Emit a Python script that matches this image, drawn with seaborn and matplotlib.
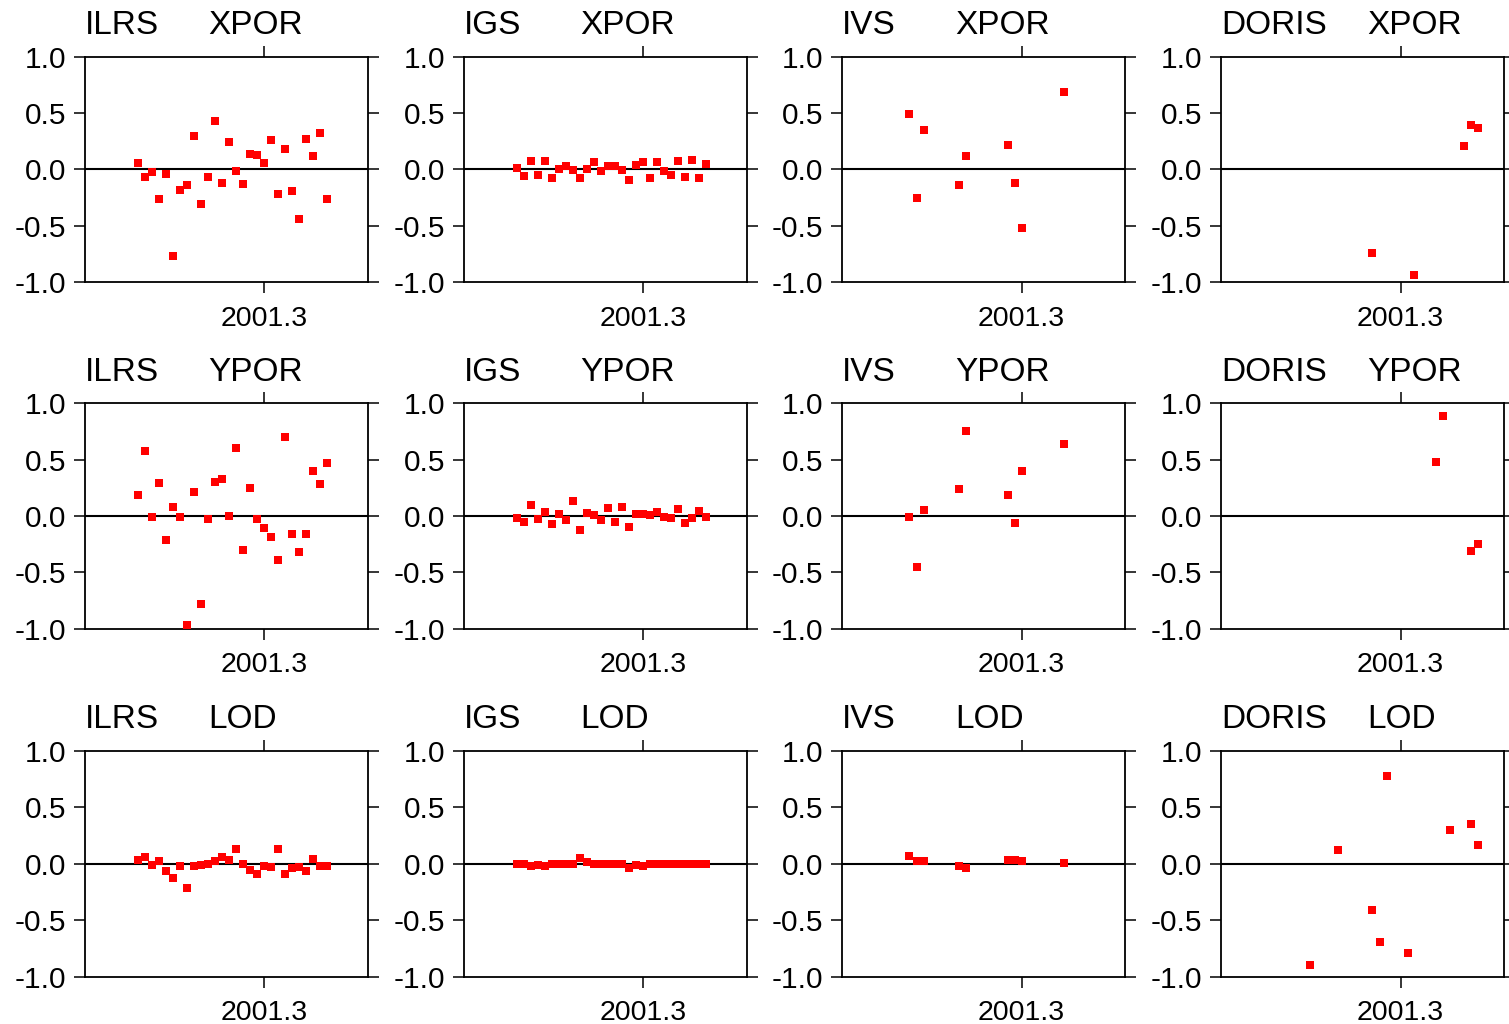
import matplotlib
matplotlib.use("Agg")
import matplotlib.pyplot as plt
import seaborn as sns
import pandas as pd

# ---------------- data ----------------
CENTRES = ["ILRS", "IGS", "IVS", "DORIS"]
PARAMS = ["XPOR", "YPOR", "LOD"]

# weekly epochs (decimal years)
EPOCHS_FULL = [2000.955, 2000.974, 2000.993, 2001.013, 2001.032, 2001.051, 2001.070,
               2001.089, 2001.108, 2001.128, 2001.147, 2001.166, 2001.185, 2001.204,
               2001.223, 2001.243, 2001.262, 2001.281, 2001.300, 2001.319, 2001.338,
               2001.358, 2001.377, 2001.396, 2001.415, 2001.434, 2001.453, 2001.473]
EPOCHS_IVS = [2000.993, 2001.013, 2001.032, 2001.128, 2001.147, 2001.262, 2001.281,
              2001.300, 2001.415]
EPOCHS_DORIS_X = [2001.223, 2001.338, 2001.473, 2001.492, 2001.511]
EPOCHS_DORIS_Y = [2001.396, 2001.415, 2001.492, 2001.511]
EPOCHS_DORIS_L = [2001.051, 2001.128, 2001.223, 2001.243, 2001.262, 2001.319,
                  2001.434, 2001.492, 2001.511]

ILRS_XPOR = [0.06, -0.07, -0.02, -0.26, -0.04, -0.77, -0.18, -0.14, 0.30, -0.31,
             -0.07, 0.43, -0.12, 0.24, -0.01, -0.13, 0.14, 0.13, 0.06, 0.26,
             -0.22, 0.18, -0.19, -0.44, 0.27, 0.12, 0.32, -0.26]
IGS_XPOR = [0.015, -0.056, 0.077, -0.047, 0.077, -0.074, 0.006, 0.033, -0.006, -0.074,
            0.006, 0.068, -0.015, 0.027, 0.027, -0.003, -0.092, 0.041, 0.068, -0.074,
            0.068, -0.012, -0.047, 0.077, -0.065, 0.086, -0.074, 0.050]
IVS_XPOR = [0.49, -0.25, 0.35, -0.14, 0.12, 0.22, -0.12, -0.52, 0.69]
DORIS_XPOR = [-0.74, -0.94, 0.21, 0.39, 0.37]

ILRS_YPOR = [0.19, 0.58, -0.01, 0.29, -0.21, 0.08, -0.01, -0.97, 0.21, -0.78,
             -0.03, 0.30, 0.33, 0.00, 0.60, -0.30, 0.25, -0.03, -0.11, -0.19,
             -0.39, 0.70, -0.16, -0.32, -0.16, 0.40, 0.28, 0.47]
IGS_YPOR = [-0.018, -0.053, 0.097, -0.027, 0.035, -0.071, 0.018, -0.035, 0.133, -0.124,
            0.027, 0.009, -0.035, 0.071, -0.053, 0.080, -0.097, 0.018, 0.018, 0.009,
            0.035, -0.009, -0.018, 0.062, -0.062, -0.018, 0.044, -0.009]
IVS_YPOR = [-0.01, -0.45, 0.05, 0.24, 0.75, 0.19, -0.06, 0.40, 0.64]
DORIS_YPOR = [0.48, 0.89, -0.31, -0.25]

ILRS_LOD = [0.036, 0.062, -0.009, 0.027, -0.062, -0.124, -0.018, -0.213, -0.018, -0.009,
            0.000, 0.027, 0.062, 0.036, 0.133, 0.000, -0.053, -0.089, -0.018, -0.027,
            0.133, -0.089, -0.036, -0.027, -0.062, 0.044, -0.018, -0.018]
IGS_LOD = [0.0, 0.0, -0.018, -0.009, -0.018, 0.0, 0.0, 0.0, 0.0, 0.053,
           0.018, 0.0, 0.0, 0.0, 0.0, 0.0, -0.036, -0.009, -0.018, 0.0,
           0.0, 0.0, 0.0, 0.0, 0.0, 0.0, 0.0, 0.0]
IVS_LOD = [0.071, 0.027, 0.027, -0.018, -0.036, 0.036, 0.036, 0.021, 0.009]
DORIS_LOD = [-0.90, 0.12, -0.41, -0.69, 0.78, -0.79, 0.30, 0.35, 0.17]

X_TICKS = [2001.3]
X_TICK_LABELS = ["2001.3"]
Y_TICKS = [-1.0, -0.5, 0.0, 0.5, 1.0]
Y_TICK_LABELS = ["-1.0", "-0.5", "0.0", "0.5", "1.0"]

SERIES = {
    ("ILRS", "XPOR"): (EPOCHS_FULL, ILRS_XPOR),
    ("IGS", "XPOR"): (EPOCHS_FULL, IGS_XPOR),
    ("IVS", "XPOR"): (EPOCHS_IVS, IVS_XPOR),
    ("DORIS", "XPOR"): (EPOCHS_DORIS_X, DORIS_XPOR),
    ("ILRS", "YPOR"): (EPOCHS_FULL, ILRS_YPOR),
    ("IGS", "YPOR"): (EPOCHS_FULL, IGS_YPOR),
    ("IVS", "YPOR"): (EPOCHS_IVS, IVS_YPOR),
    ("DORIS", "YPOR"): (EPOCHS_DORIS_Y, DORIS_YPOR),
    ("ILRS", "LOD"): (EPOCHS_FULL, ILRS_LOD),
    ("IGS", "LOD"): (EPOCHS_FULL, IGS_LOD),
    ("IVS", "LOD"): (EPOCHS_IVS, IVS_LOD),
    ("DORIS", "LOD"): (EPOCHS_DORIS_L, DORIS_LOD),
}

# ---------------- style ----------------
sns.set_style("white")
plt.rcParams["font.family"] = ["Liberation Sans", "DejaVu Sans"]
plt.rcParams["axes.unicode_minus"] = False
plt.rcParams["text.color"] = "black"
plt.rcParams["xtick.labelcolor"] = "black"
plt.rcParams["ytick.labelcolor"] = "black"

W, H = 1509, 1024
fig = plt.figure(figsize=(W / 100, H / 100), dpi=100)
fig.patch.set_facecolor("white")

col_left = [85, 463.7, 842.3, 1221.3]
row_top = [56.7, 403.3, 751.0]
ax_w, ax_h = 283, 225.5
second_title_x = [0.435, 0.411, 0.398, 0.517]

for r, param in enumerate(PARAMS):
    for c, centre in enumerate(CENTRES):
        left = col_left[c] / W
        bottom = 1 - (row_top[r] + ax_h) / H
        ax = fig.add_axes([left, bottom, ax_w / W, ax_h / H])
        xs, ys = SERIES[(centre, param)]
        df = pd.DataFrame({"epoch": xs, "value": ys})
        ax.axhline(0, color="black", lw=1.5, zorder=1)
        sns.scatterplot(data=df, x="epoch", y="value", ax=ax, marker="s",
                        color="#ff0000", s=26, linewidth=0, zorder=3, legend=False)
        ax.set_xlim(2000.809, 2001.584)
        ax.set_ylim(-1.0, 1.0)
        ax.set_xticks(X_TICKS)
        ax.set_xticklabels(X_TICK_LABELS)
        ax.set_yticks(Y_TICKS)
        ax.set_yticklabels(Y_TICK_LABELS)
        ax.set_xlabel("")
        ax.set_ylabel("")
        ax.tick_params(axis="both", which="major", direction="out", length=8,
                       width=1.1, color="black", labelcolor="black")
        ax.tick_params(axis="y", left=True, right=True, labelleft=True,
                       labelright=False, pad=5.5, labelsize=21.5)
        ax.tick_params(axis="x", bottom=True, top=True, labelbottom=True,
                       labeltop=False, pad=9, labelsize=20.5)
        for sp in ax.spines.values():
            sp.set_visible(True)
            sp.set_color("black")
            sp.set_linewidth(1.3)
        ax.set_facecolor("white")
        ax.grid(False)
        ty = 1 + 22.5 / ax_h
        ax.text(0.0, ty, centre, transform=ax.transAxes, fontsize=24,
                ha="left", va="baseline", color="black")
        ax.text(second_title_x[c], ty, param, transform=ax.transAxes,
                fontsize=24, ha="left", va="baseline", color="black")

fig.savefig("out.png", dpi=100, facecolor="white")
